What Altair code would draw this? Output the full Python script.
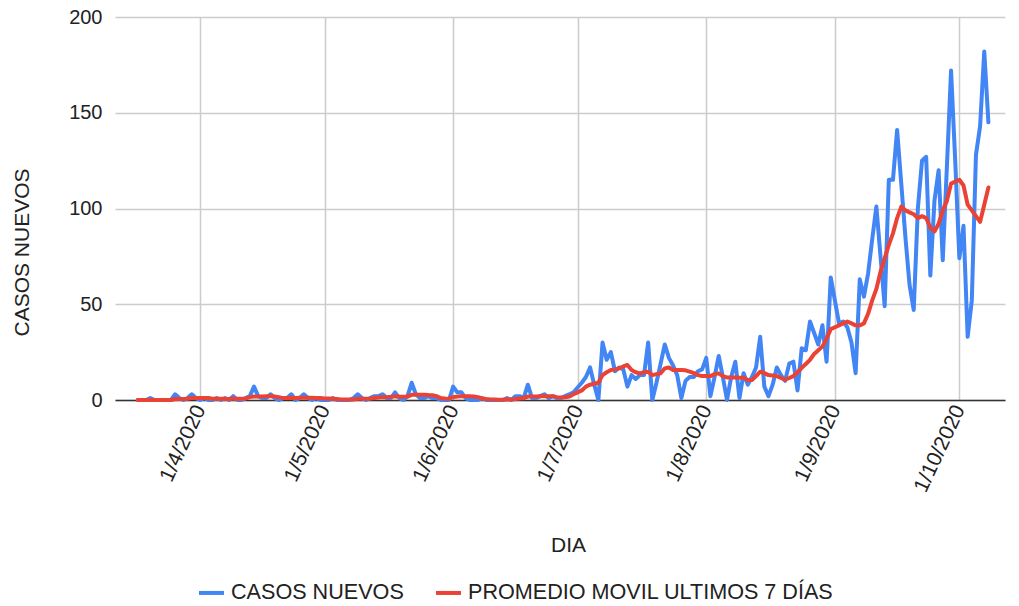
import altair as alt
import pandas as pd

# ---- data (one value per day, 17/3/2020 .. 8/10/2020) ----
start_date = "2020-03-17"

casos_mar = [0, 0, 0, 1, 0, 0, 0, 0, 0, 3, 1, 0, 1, 3, 1]
casos_abr = [0, 1, 0, 0, 1, 0, 1, 0, 2, 0, 0, 1, 2, 7, 2, 1, 1, 3, 1, 0,
             1, 1, 3, 0, 1, 3, 1, 0, 1, 0]
casos_may = [0, 0, 1, 0, 0, 0, 0, 1, 3, 1, 0, 1, 2, 2, 3, 1, 1, 4, 1, 0,
             2, 9, 3, 1, 1, 2, 1, 1, 0, 0, 0]
casos_jun = [7, 4, 4, 1, 0, 0, 0, 1, 0, 0, 0, 0, 0, 1, 0, 2, 2, 1, 8, 1,
             1, 2, 3, 1, 2, 1, 1, 2, 3, 4]
casos_jul = [6.5, 9, 12, 17, 8, 0, 30, 21, 25, 15, 17, 16, 7, 13, 11, 13, 13, 30, 0, 9,
             19, 29, 22, 18, 13, 1, 10, 12, 12, 15, 16]
casos_ago = [22, 2, 12, 23, 12, 0, 12, 20, 1, 14, 8, 12, 17, 33, 7, 2, 8, 17, 13, 10,
             19, 20, 5, 27, 26, 41, 35, 29, 39, 20, 64]
casos_sep = [52, 40, 41, 38, 30, 14, 63, 54, 66, 84, 101, 75, 49, 115, 115, 141, 113, 85, 60, 47,
             100, 125, 127, 65, 104, 120, 73, 122, 172, 125]
casos_oct = [74, 91, 33, 52, 128, 143, 182, 145]

prom_mar = [0, 0, 0, 0, 0, 0, 0, 0, 0, 0.5, 0.5, 0.5, 0.7, 1, 1]
prom_abr = [1, 1, 1, 0.7, 0.7, 0.7, 0.5, 0.5, 0.7, 0.7, 0.7, 0.8, 1.5, 1.8, 1.8, 1.8, 2, 2, 1.8, 1.5,
            1, 1, 1.2, 1, 1.2, 1.2, 1.2, 1.2, 1, 1]
prom_may = [0.8, 0.8, 0.7, 0.5, 0.3, 0.2, 0.2, 0.3, 0.7, 0.7, 0.7, 0.8, 1, 1.3, 1.5, 1.5, 1.7, 2, 1.8, 1.7,
            1.8, 2.7, 2.8, 2.8, 2.8, 2.6, 2.5, 2, 1, 0.8, 0.7]
prom_jun = [1.5, 1.8, 2, 2, 2, 1.8, 1.5, 0.8, 0.5, 0.3, 0.2, 0.1, 0.1, 0.3, 0.3, 0.5, 0.8, 1, 1.8, 1.8,
            1.8, 2, 2, 2, 2, 1.5, 1.3, 1.4, 1.8, 3]
prom_jul = [4, 5, 7, 8, 8.5, 9, 13, 14.5, 15.7, 16, 16.5, 17.5, 18.3, 15.7, 14.5, 13.9, 14.5, 14.8, 13, 13.5,
            14, 16.5, 17, 15.7, 15.7, 15.7, 15.5, 14.8, 14, 13, 12.5]
prom_ago = [12.5, 12.5, 13.5, 13.9, 12.5, 11.8, 11.8, 11.8, 11.6, 11.6, 10.4, 10.4, 12.5, 14.8, 14, 13, 12.8, 12.5, 11.5, 10.6,
            11.5, 12.5, 14.5, 16.8, 18.8, 21, 24, 26, 28, 32, 37]
prom_sep = [38, 39, 40, 41, 40, 39, 39, 40, 45, 52, 58, 67, 74, 81, 87, 95, 101, 99, 98, 97,
            95, 96, 95, 90, 88, 92, 99, 104, 113, 114]
prom_oct = [115, 112, 102, 99, 96, 93, 102, 111]

serie_a = "CASOS NUEVOS"
serie_b = "PROMEDIO MOVIL ULTIMOS 7 DÍAS"

y_ticks = [0, 50, 100, 150, 200]

casos = casos_mar + casos_abr + casos_may + casos_jun + casos_jul + casos_ago + casos_sep + casos_oct
prom = prom_mar + prom_abr + prom_may + prom_jun + prom_jul + prom_ago + prom_sep + prom_oct
dates = pd.date_range(start_date, periods=len(casos), freq="D").strftime("%Y-%m-%d")

df = pd.concat([
    pd.DataFrame({"fecha": dates, "valor": casos, "serie": serie_a}),
    pd.DataFrame({"fecha": dates, "valor": prom, "serie": serie_b}),
])

FONT = "Liberation Sans"
BLUE = "#4285F4"
RED = "#EA4335"

tick_dates = [alt.DateTime(year=2020, month=m, date=1, utc=True) for m in range(4, 11)]

x_enc = alt.X(
    "fecha:T",
    scale=alt.Scale(
        type="utc",
        domain=[alt.DateTime(year=2020, month=3, date=11, hours=12, utc=True),
                alt.DateTime(year=2020, month=10, date=12, utc=True)],
        nice=False,
    ),
    axis=alt.Axis(
        values=tick_dates,
        labelExpr="utcFormat(datum.value, '%-d/%-m/%Y')",
        labelAngle=-65,
        labelAlign="right",
        labelBaseline="middle",
        labelPadding=6,
        labelFontSize=21,
        labelColor="#222222",
        labelFont=FONT,
        labelOverlap=False,
        ticks=False,
        grid=True,
        gridColor="#cccccc",
        gridWidth=1.5,
        domain=True,
        domainColor="#333333",
        domainWidth=1.5,
        title="DIA",
        titleFont=FONT,
        titleFontSize=21,
        titleFontWeight="normal",
        titleColor="#222222",
        titleX=453,
        titleY=145,
        titleBaseline="middle",
        titleAlign="center",
    ),
)

y_enc = alt.Y(
    "valor:Q",
    scale=alt.Scale(domain=[0, 200], nice=False),
    axis=alt.Axis(
        values=y_ticks,
        labelFontSize=20,
        labelColor="#222222",
        labelFont=FONT,
        labelPadding=13,
        ticks=False,
        grid=True,
        gridColor="#cccccc",
        gridWidth=1.5,
        domain=False,
        title="CASOS NUEVOS",
        titleFont=FONT,
        titleFontSize=21,
        titleFontWeight="normal",
        titleColor="#222222",
        titleX=-93,
        titleY=235,
        titleBaseline="middle",
        titleAlign="center",
    ),
)

color_enc = alt.Color(
    "serie:N",
    scale=alt.Scale(domain=[serie_a, serie_b], range=[BLUE, RED]),
    legend=alt.Legend(
        title=None,
        orient="none",
        legendX=82,
        legendY=561,
        direction="horizontal",
        symbolType="stroke",
        symbolSize=625,
        symbolStrokeWidth=4,
        labelFont=FONT,
        labelFontSize=21.6,
        labelColor="#222222",
        labelOffset=5,
        columnPadding=24,
        labelLimit=600,
    ),
)

base = alt.Chart(df).encode(x=x_enc, y=y_enc, color=color_enc)

line_a = base.transform_filter(alt.datum.serie == serie_a).mark_line(
    strokeWidth=4, strokeJoin="round", strokeCap="round"
)
line_b = base.transform_filter(alt.datum.serie == serie_b).mark_line(
    strokeWidth=4, strokeJoin="round", strokeCap="round"
)

chart = (
    alt.layer(line_a, line_b)
    .properties(
        width=890,
        height=383,
        autosize=alt.AutoSizeParams(type="none"),
        padding={"left": 107, "top": 9, "right": 6, "bottom": 206},
        background="white",
    )
    .configure_view(stroke=None)
)

chart.save("out.html", embed_options={"renderer": "svg", "actions": False})
